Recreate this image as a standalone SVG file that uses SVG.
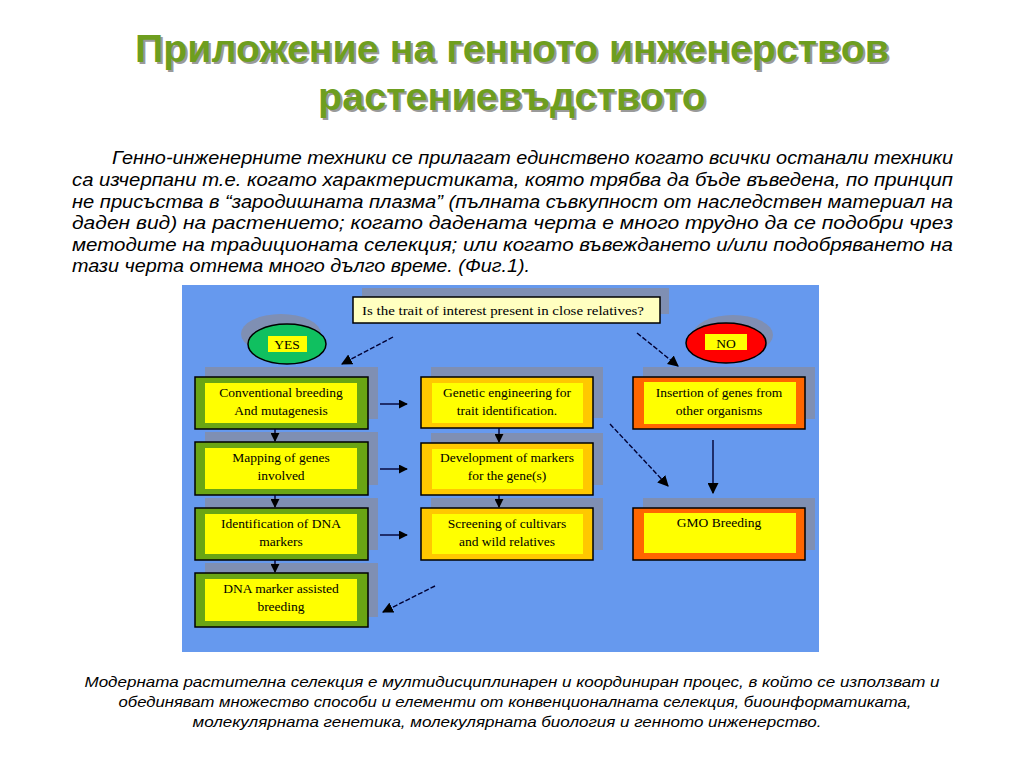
<svg xmlns="http://www.w3.org/2000/svg" width="1024" height="768" viewBox="0 0 1024 768">
<defs>
<style>
.title{font-family:"Liberation Sans",Arial,sans-serif;font-weight:bold;font-size:38px;fill:#6e9e1f}
.tshadow{font-family:"Liberation Sans",Arial,sans-serif;font-weight:bold;font-size:38px;fill:#9a9a9a}
.para{font-family:"Liberation Sans",Arial,sans-serif;font-style:italic;font-size:18px;fill:#000}
.cap{font-family:"Liberation Sans",Arial,sans-serif;font-style:italic;font-size:15.5px;fill:#000}
.lbl{font-family:"Liberation Serif","Times New Roman",serif;font-size:13.5px;fill:#000;text-anchor:middle}
.shadow{fill:#7f8fb3}
.outline{stroke:#000;stroke-width:1.5}
.green{fill:#6aa514}
.gold{fill:#ffc800}
.orange{fill:#ff6600}
.inner{fill:#ffff00}
.conn{stroke:#000033;stroke-width:1.4;fill:none}
.dash{stroke-dasharray:5,2}
</style>
<marker id="ah" viewBox="0 0 10 10" refX="9" refY="5" markerWidth="9" markerHeight="9" markerUnits="userSpaceOnUse" orient="auto">
<path d="M0,0 L10,5 L0,10 z" fill="#000"/>
</marker>
<marker id="ahs" viewBox="0 0 10 10" refX="9" refY="5" markerWidth="11" markerHeight="11" markerUnits="userSpaceOnUse" orient="auto">
<path d="M0,0 L10,5 L0,10 z" fill="#000"/>
</marker>
</defs>
<rect width="1024" height="768" fill="#fff"/>

<g id="title">
<text class="tshadow" x="514" y="64" text-anchor="middle" textLength="754" lengthAdjust="spacingAndGlyphs">Приложение на генното инженерствов</text>
<text class="title" x="512" y="62" text-anchor="middle" textLength="754" lengthAdjust="spacingAndGlyphs">Приложение на генното инженерствов</text>
<text class="tshadow" x="514" y="112" text-anchor="middle" textLength="388" lengthAdjust="spacingAndGlyphs">растениевъдството</text>
<text class="title" x="512" y="110" text-anchor="middle" textLength="388" lengthAdjust="spacingAndGlyphs">растениевъдството</text>
</g>

<g id="paragraph">
<text class="para" x="112" y="164" textLength="841" lengthAdjust="spacingAndGlyphs">Генно-инженерните техники се прилагат единствено когато всички останали техники</text>
<text class="para" x="72" y="186" textLength="881" lengthAdjust="spacingAndGlyphs">са изчерпани т.е. когато характеристиката, която трябва да бъде въведена, по принцип</text>
<text class="para" x="72" y="207.5" textLength="881" lengthAdjust="spacingAndGlyphs">не присъства в “зародишната плазма” (пълната съвкупност от наследствен материал на</text>
<text class="para" x="72" y="229" textLength="881" lengthAdjust="spacingAndGlyphs">даден вид) на растението; когато дадената черта е много трудно да се подобри чрез</text>
<text class="para" x="72" y="250.5" textLength="881" lengthAdjust="spacingAndGlyphs">методите на традиционата селекция; или когато въвеждането и/или подобряването на</text>
<text class="para" x="72" y="272" textLength="458" lengthAdjust="spacingAndGlyphs">тази черта отнема много дълго време. (Фиг.1).</text>
</g>

<rect id="panel" x="182" y="285" width="637" height="367" fill="#6699ee"/>

<g id="question">
<rect class="shadow" x="362" y="288" width="307" height="26"/>
<rect x="353" y="297" width="307" height="26" fill="#ffffc0" class="outline"/>
<text class="lbl" x="503" y="315" textLength="282" lengthAdjust="spacingAndGlyphs">Is the trait of interest present in close relatives?</text>
</g>

<g id="yes">
<ellipse class="shadow" cx="281" cy="334" rx="40" ry="20"/>
<ellipse cx="287" cy="344" rx="39" ry="20" fill="#10c060" class="outline"/>
<rect x="268" y="336" width="39" height="16" class="inner"/>
<text class="lbl" x="287" y="349">YES</text>
</g>

<g id="no">
<ellipse class="shadow" cx="733" cy="335" rx="40" ry="20"/>
<ellipse cx="726" cy="343" rx="40" ry="20" fill="#ff0000" class="outline"/>
<rect x="705" y="334" width="42" height="16" class="inner"/>
<text class="lbl" x="726" y="348">NO</text>
</g>

<g id="conventional">
<rect class="shadow" x="205" y="367" width="173" height="52"/>
<rect x="195" y="377" width="173" height="52" class="green outline"/>
<rect x="205" y="383" width="152" height="40" class="inner"/>
<text class="lbl" x="281" y="397">Conventional breeding</text>
<text class="lbl" x="281" y="415">And mutagenesis</text>
</g>

<g id="mapping">
<rect class="shadow" x="205" y="432" width="173" height="53"/>
<rect x="195" y="442" width="173" height="53" class="green outline"/>
<rect x="205" y="448" width="152" height="41" class="inner"/>
<text class="lbl" x="281" y="462">Mapping of genes</text>
<text class="lbl" x="281" y="480">involved</text>
</g>

<g id="identification">
<rect class="shadow" x="205" y="498" width="173" height="52"/>
<rect x="195" y="508" width="173" height="52" class="green outline"/>
<rect x="205" y="514" width="152" height="40" class="inner"/>
<text class="lbl" x="281" y="528">Identification of DNA</text>
<text class="lbl" x="281" y="546">markers</text>
</g>

<g id="mas">
<rect class="shadow" x="205" y="563" width="173" height="54"/>
<rect x="195" y="573" width="173" height="54" class="green outline"/>
<rect x="205" y="579" width="152" height="42" class="inner"/>
<text class="lbl" x="281" y="593">DNA marker assisted</text>
<text class="lbl" x="281" y="611">breeding</text>
</g>

<g id="genetic-engineering">
<rect class="shadow" x="431" y="367" width="172" height="51"/>
<rect x="421" y="377" width="172" height="51" class="gold outline"/>
<rect x="432" y="383" width="151" height="40" class="inner"/>
<text class="lbl" x="507" y="397">Genetic engineering for</text>
<text class="lbl" x="507" y="415">trait identification.</text>
</g>

<g id="development">
<rect class="shadow" x="431" y="433" width="172" height="52"/>
<rect x="421" y="443" width="172" height="52" class="gold outline"/>
<rect x="432" y="449" width="151" height="40" class="inner"/>
<text class="lbl" x="507" y="462">Development of markers</text>
<text class="lbl" x="507" y="480">for the gene(s)</text>
</g>

<g id="screening">
<rect class="shadow" x="431" y="498" width="172" height="52"/>
<rect x="421" y="508" width="172" height="52" class="gold outline"/>
<rect x="432" y="514" width="151" height="40" class="inner"/>
<text class="lbl" x="507" y="528">Screening of cultivars</text>
<text class="lbl" x="507" y="546">and wild relatives</text>
</g>

<g id="insertion">
<rect class="shadow" x="643" y="367" width="172" height="52"/>
<rect x="633" y="377" width="172" height="52" class="orange outline"/>
<rect x="644" y="382" width="152" height="42" class="inner"/>
<text class="lbl" x="719" y="397">Insertion of genes from</text>
<text class="lbl" x="719" y="415">other organisms</text>
</g>

<g id="gmo">
<rect class="shadow" x="643" y="498" width="172" height="52"/>
<rect x="633" y="508" width="172" height="52" class="orange outline"/>
<rect x="644" y="513" width="152" height="40" class="inner"/>
<text class="lbl" x="719" y="527">GMO Breeding</text>
</g>

<g id="connectors">
<line class="conn dash" x1="393" y1="337" x2="342" y2="364" marker-end="url(#ahs)"/>
<line class="conn dash" x1="637" y1="333" x2="678" y2="366" marker-end="url(#ahs)"/>
<line class="conn dash" x1="610" y1="424" x2="668" y2="486" marker-end="url(#ahs)"/>
<line class="conn" x1="713" y1="440" x2="713" y2="493" marker-end="url(#ahs)"/>
<line class="conn dash" x1="435" y1="586" x2="383" y2="612" marker-end="url(#ahs)"/>
<line class="conn" x1="275" y1="429" x2="275" y2="441" marker-end="url(#ah)"/>
<line class="conn" x1="275" y1="495" x2="275" y2="507" marker-end="url(#ah)"/>
<line class="conn" x1="275" y1="560" x2="275" y2="572" marker-end="url(#ah)"/>
<line class="conn" x1="499" y1="428" x2="499" y2="442" marker-end="url(#ah)"/>
<line class="conn" x1="499" y1="495" x2="499" y2="507" marker-end="url(#ah)"/>
<line class="conn" x1="380" y1="404" x2="407" y2="404" marker-end="url(#ah)"/>
<line class="conn" x1="380" y1="469" x2="407" y2="469" marker-end="url(#ah)"/>
<line class="conn" x1="380" y1="535" x2="407" y2="535" marker-end="url(#ah)"/>
</g>

<g id="caption">
<text class="cap" x="512" y="687" text-anchor="middle" textLength="855" lengthAdjust="spacingAndGlyphs">Модерната растителна селекция е мултидисциплинарен и координиран процес, в който се използват и</text>
<text class="cap" x="515" y="707" text-anchor="middle" textLength="793" lengthAdjust="spacingAndGlyphs">обединяват множество способи и елементи от конвенционалната селекция, биоинформатиката,</text>
<text class="cap" x="507" y="727" text-anchor="middle" textLength="629" lengthAdjust="spacingAndGlyphs">молекулярната генетика, молекулярната биология и генното инженерство.</text>
</g>
</svg>
